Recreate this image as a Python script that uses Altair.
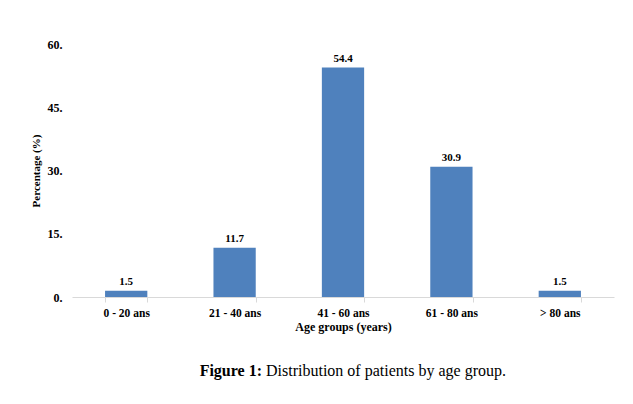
import altair as alt
import pandas as pd

categories = ["0 - 20 ans", "21 - 40 ans", "41 - 60 ans", "61 - 80 ans", "> 80 ans"]
values = [1.5, 11.7, 54.4, 30.9, 1.5]
y_ticks = [0, 15, 30, 45, 60]

df = pd.DataFrame({"cat": categories, "val": values})
FONT = "Liberation Serif, Times New Roman, serif"

base = alt.Chart(df)

bars = base.mark_bar(color="#4f81bd").encode(
    x=alt.X("cat:N", sort=categories, title="Age groups (years)",
            scale=alt.Scale(paddingInner=0.61, paddingOuter=0.305),
            axis=alt.Axis(labelAngle=0, labelFont=FONT, labelFontWeight="bold",
                          labelFontSize=11.5, labelColor="#000", labelPadding=5,
                          titleFont=FONT, titleFontWeight="bold", titleFontSize=12,
                          titleColor="#000", titlePadding=3,
                          domainColor="#d9d9d9", tickColor="#d9d9d9",
                          tickBand="extent", tickSize=5)),
    y=alt.Y("val:Q", title="Percentage (%)",
            scale=alt.Scale(domain=[0, 60]),
            axis=alt.Axis(values=y_ticks, labelExpr="datum.value + '.'",
                          grid=False, domain=False, ticks=False,
                          labelFont=FONT, labelFontWeight="bold", labelFontSize=12,
                          labelColor="#000", labelPadding=10,
                          titleFont=FONT, titleFontWeight="bold", titleFontSize=11,
                          titleColor="#000", titlePadding=6)),
)

labels = base.mark_text(dy=-9, font=FONT, fontWeight="bold", fontSize=11, color="#000").encode(
    x=alt.X("cat:N", sort=categories),
    y="val:Q",
    text=alt.Text("val:Q", format=".1f"),
)

cap_df = pd.DataFrame({"t": ["Figure 1:"]})
cap1 = alt.Chart(cap_df).mark_text(font=FONT, fontWeight="bold", fontSize=16,
                                   align="right", baseline="alphabetic", color="#000").encode(
    x=alt.value(190), y=alt.value(332), text="t:N")
cap_df2 = pd.DataFrame({"t": ["Distribution of patients by age group."]})
cap2 = alt.Chart(cap_df2).mark_text(font=FONT, fontSize=16,
                                    align="left", baseline="alphabetic", color="#000").encode(
    x=alt.value(194), y=alt.value(332), text="t:N")

chart = alt.layer(bars, labels, cap1, cap2).properties(
    width=542, height=253,
    autosize=alt.AutoSizeParams(type="none"),
    padding={"left": 64, "top": 36, "right": 11, "bottom": 90},
).configure_view(stroke=None)

chart.save("out.html", embed_options={"renderer": "svg", "actions": False})
